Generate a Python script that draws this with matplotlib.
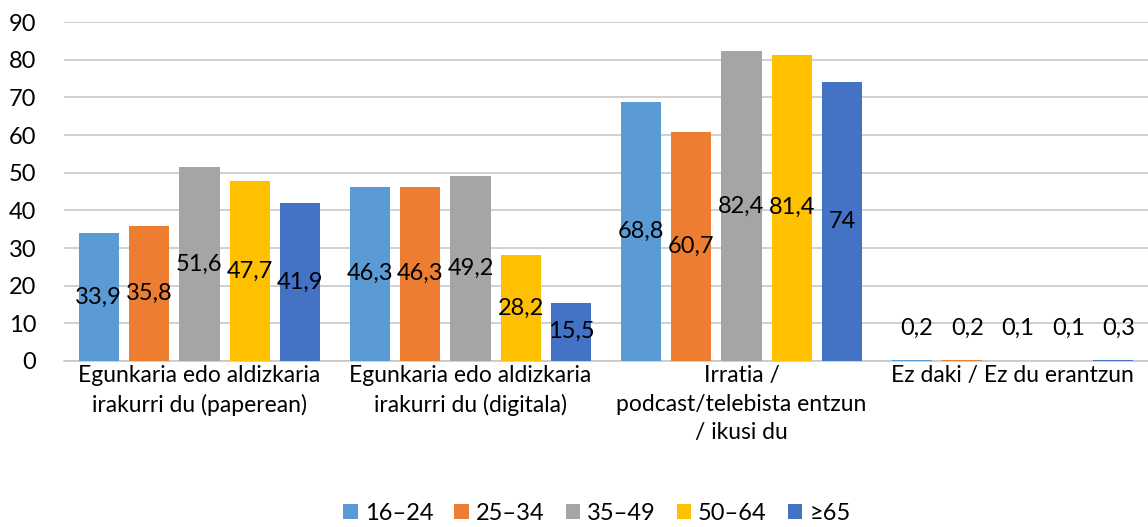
import numpy as np
import matplotlib.pyplot as plt

plt.rcParams['font.family'] = ['Lato', 'DejaVu Sans']

categories = ['Egunkaria edo aldizkaria\nirakurri du (paperean)',
              'Egunkaria edo aldizkaria\nirakurri du (digitala)',
              'Irratia /\npodcast/telebista entzun\n/ ikusi du',
              'Ez daki / Ez du erantzun']
series = ['16–24', '25–34', '35–49', '50–64', '≥65']
v_16_24 = [33.9, 46.3, 68.8, 0.2]
v_25_34 = [35.8, 46.3, 60.7, 0.2]
v_35_49 = [51.6, 49.2, 82.4, 0.1]
v_50_64 = [47.7, 28.2, 81.4, 0.1]
v_65 = [41.9, 15.5, 74.0, 0.3]
values = [v_16_24, v_25_34, v_35_49, v_50_64, v_65]
colors = ['#5B9BD5', '#ED7D31', '#A5A5A5', '#FFC000', '#4472C4']

fig = plt.figure(figsize=(11.48, 5.27), dpi=100)
ax = fig.add_axes([0.0557, 0.315, 0.9443, 0.643])

x = np.arange(len(categories))
step = 0.186
width = 0.148
for i, (name, vals, c) in enumerate(zip(series, values, colors)):
    pos = x + (i - 2) * step
    ax.bar(pos, vals, width, color=c, label=name, zorder=3)
    for p, v in zip(pos, vals):
        # small bars get their label lifted above the axis
        ly = v / 2 if v > 5 else 8.7
        ax.text(p + (0.02 if v <= 5 else 0), ly, f'{v:g}'.replace('.', ','),
                ha='center', va='center', fontsize=17, color='black', zorder=4)

ax.set_xlim(-0.5, len(categories) - 0.5)
ax.set_ylim(0, 90)
ax.set_yticks(range(0, 91, 10))
ax.yaxis.grid(True, color='#C8C8C8', linewidth=1.2, zorder=0)
ax.set_xticks(x)
ax.set_xticklabels(categories, fontsize=16.5, linespacing=1.45)
ax.tick_params(axis='both', length=0, labelsize=17)
ax.tick_params(axis='x', labelsize=16.5, pad=3)
ax.tick_params(axis='y', pad=20)
for s in ['top', 'right', 'left']:
    ax.spines[s].set_visible(False)
ax.spines['bottom'].set_color('#C8C8C8')
ax.spines['bottom'].set_linewidth(1.2)

fig.legend(loc='lower center', bbox_to_anchor=(0.52, -0.035), ncol=5, frameon=False,
           fontsize=17, handlelength=0.6, handleheight=0.6, handletextpad=0.3,
           columnspacing=0.9)

fig.savefig('out.png', dpi=100)
